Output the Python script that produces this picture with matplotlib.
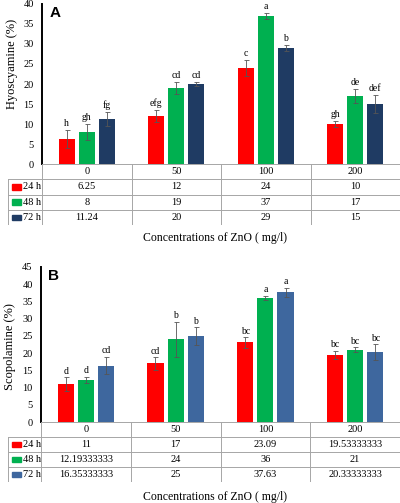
import numpy as np
import matplotlib
matplotlib.use("Agg")
import matplotlib.pyplot as plt
from matplotlib.patches import Rectangle

plt.rcParams['font.family'] = ['Liberation Serif', 'DejaVu Serif']

# data
conc = ['0', '50', '100', '200']
times = ['24 h', '48 h', '72 h']

hyo = [[6.25, 12, 24, 10],
       [8, 19, 37, 17],
       [11.24, 20, 29, 15]]
hyo_err = [[2.2, 1.5, 2.0, 0.7],
           [2.0, 1.5, 0.8, 1.8],
           [1.7, 0.5, 0.8, 2.2]]
hyo_let = [['h', 'efg', 'c', 'gh'],
           ['gh', 'cd', 'a', 'de'],
           ['fg', 'cd', 'b', 'def']]

sco = [[11, 17, 23.09, 19.53333333],
       [12.19333333, 24, 36, 21],
       [16.35333333, 25, 37.63, 20.33333333]]
sco_err = [[2.0, 1.8, 1.5, 1.2],
           [1.0, 5.0, 0.7, 0.7],
           [2.5, 2.5, 1.3, 2.2]]
sco_let = [['d', 'cd', 'bc', 'bc'],
           ['d', 'b', 'a', 'bc'],
           ['cd', 'b', 'a', 'bc']]

W, H = 400, 503
fig = plt.figure(figsize=(W / 100, H / 100), dpi=100)


def px_axes(x0, y0, x1, y1):
    return fig.add_axes([x0 / W, 1 - y1 / H, (x1 - x0) / W, (y1 - y0) / H])


def panel(vals, errs, lets, colors, ymax, ystep, ylabel, tag, xa, ytop, ybot, ytab, lab_xy):
    ax = px_axes(xa, ytop, 400, ybot)
    x = np.arange(len(conc))
    bw = 0.18
    offs = [-0.225, 0, 0.225]
    for i in range(3):
        ax.bar(x + offs[i], vals[i], bw, color=colors[i], zorder=2)
        ax.errorbar(x + offs[i], vals[i], yerr=errs[i], fmt='none',
                    ecolor='#555555', elinewidth=0.6, capsize=1.8, capthick=0.6, zorder=3)
        for j in range(len(conc)):
            ax.text(x[j] + offs[i], vals[i][j] + errs[i][j] + 0.5, lets[i][j],
                    ha='center', va='bottom', fontsize=7)
    ax.set_xlim(-0.5, 3.5)
    ax.set_ylim(0, ymax)
    ax.set_yticks(np.arange(0, ymax + 1, ystep))
    ax.set_xticks([])
    ax.tick_params(axis='y', length=0, labelsize=7.5, pad=6)
    for s in ['top', 'right', 'bottom']:
        ax.spines[s].set_visible(False)
    ax.spines['left'].set_linewidth(1.4)
    ax.set_ylabel(ylabel, fontsize=9)
    h = ybot - ytop
    ax.yaxis.set_label_coords((lab_xy[0] - xa) / (400 - xa), 1 - (lab_xy[1] - ytop) / h)
    ax.text(0.02, 0.99, tag, transform=ax.transAxes, fontsize=11, fontweight='bold',
            family='Liberation Sans', ha='left', va='top')

    # table under the plot
    left = 8
    unit = (400 - xa) / 4.0
    tx0 = -0.5 - (xa - left) / unit
    tab = px_axes(left, ybot, 400, ytab)
    tab.set_xlim(tx0, 3.5)
    tab.set_ylim(4, 0)
    tab.axis('off')
    lc = '#A6A6A6'
    lw = 0.7
    # horizontal lines
    tab.plot([-0.5, 3.5], [0, 0], color=lc, lw=lw)
    for r in [1, 2, 3, 4]:
        tab.plot([tx0, 3.5], [r, r], color=lc, lw=lw)
    # vertical lines
    for c in [-0.5, 0.5, 1.5, 2.5, 3.5]:
        tab.plot([c, c], [0, 4], color=lc, lw=lw)
    tab.plot([tx0, tx0], [1, 4], color=lc, lw=lw)
    for j, c in enumerate(conc):
        tab.text(j, 0.5, c, ha='center', va='center', fontsize=7.5)
    for i in range(3):
        tab.add_patch(Rectangle((tx0 + 0.05, i + 1.32), 0.09, 0.36, color=colors[i]))
        tab.text(tx0 + 0.17, i + 1.5, times[i], ha='left', va='center', fontsize=7.5)
        for j in range(len(conc)):
            tab.text(j, i + 1.5, f"{vals[i][j]:.10g}", ha='center', va='center', fontsize=7.5)
    return ax


panel(hyo, hyo_err, hyo_let, ['#FF0000', '#00B050', '#1F3B63'], 40, 5,
      'Hyoscyamine (%)', 'A', 42, 4, 164, 225, (18, 64))
panel(sco, sco_err, sco_let, ['#FF0000', '#00B050', '#3E679E'], 45, 5,
      'Scopolamine (%)', 'B', 41, 267, 422, 482, (16, 347))

fig.text(215 / W, 1 - 238 / H, 'Concentrations of ZnO ( mg/l)', ha='center', va='center', fontsize=8.5)
fig.text(215 / W, 1 - 497 / H, 'Concentrations of ZnO ( mg/l)', ha='center', va='center', fontsize=8.5)

fig.savefig('out.png', dpi=100, facecolor='white')
